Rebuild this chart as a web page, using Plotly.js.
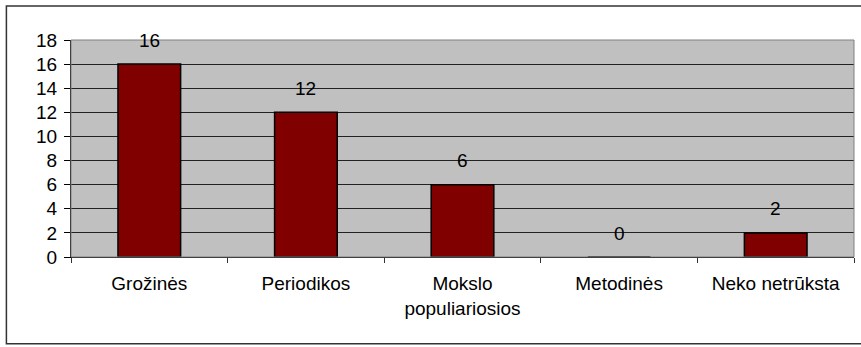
<!DOCTYPE html>
<html>
<head>
<meta charset="utf-8">
<script src="https://cdn.plot.ly/plotly-3.0.1.min.js"></script>
<style>
html,body{margin:0;padding:0;background:#fff;}
#chart{width:861px;height:347px;}
</style>
</head>
<body>
<div id="chart"></div>
<script>
var categories = ["Grožinės", "Periodikos", "Mokslo<br>populiariosios", "Metodinės", "Neko netrūksta"];
var values = [16, 12, 6, 0, 2];
var yTicks = [0, 2, 4, 6, 8, 10, 12, 14, 16, 18];

var font = {family: "Liberation Sans, Arial, sans-serif", size: 19, color: "#000"};

var annotations = categories.map(function (c, i) {
  return {
    x: c, y: values[i], xref: "x", yref: "y",
    text: String(values[i]), showarrow: false,
    yanchor: "middle", yshift: 24, font: font
  };
});

var trace = {
  type: "bar",
  x: categories,
  y: values,
  marker: {color: "#800000", line: {color: "#000", width: 1.5}},
  hoverinfo: "none"
};

var layout = {
  width: 861, height: 347,
  margin: {l: 71, r: 7, t: 40, b: 90, pad: 0},
  paper_bgcolor: "#ffffff",
  plot_bgcolor: "#c0c0c0",
  bargap: 0.6,
  showlegend: false,
  font: font,
  xaxis: {
    type: "category",
    tickson: "boundaries",
    ticks: "outside", ticklen: 5, tickcolor: "#333",
    ticklabelstandoff: 9,
    showline: true, linecolor: "#000", linewidth: 1,
    showgrid: false, zeroline: false,
    tickfont: font,
    fixedrange: true
  },
  yaxis: {
    range: [0, 18],
    tickvals: yTicks,
    ticktext: yTicks.map(String),
    ticks: "outside", ticklen: 6, tickcolor: "#000",
    ticklabelstandoff: 3,
    showline: true, linecolor: "#000", linewidth: 1,
    showgrid: true, gridcolor: "#222", gridwidth: 1,
    zeroline: false,
    tickfont: font,
    fixedrange: true
  },
  annotations: annotations,
  shapes: [
    {type: "rect", xref: "paper", yref: "paper", x0: 0, x1: 1, y0: 0, y1: 1,
     line: {color: "#808080", width: 1}, layer: "above"},
    {type: "rect", xref: "paper", yref: "paper", x0: -0.0825, x1: 1.2, y0: -0.4, y1: 1.157,
     line: {color: "#333", width: 1.5}, layer: "above"}
  ]
};

Plotly.newPlot("chart", [trace], layout, {displayModeBar: false, staticPlot: true});
</script>
</body>
</html>
